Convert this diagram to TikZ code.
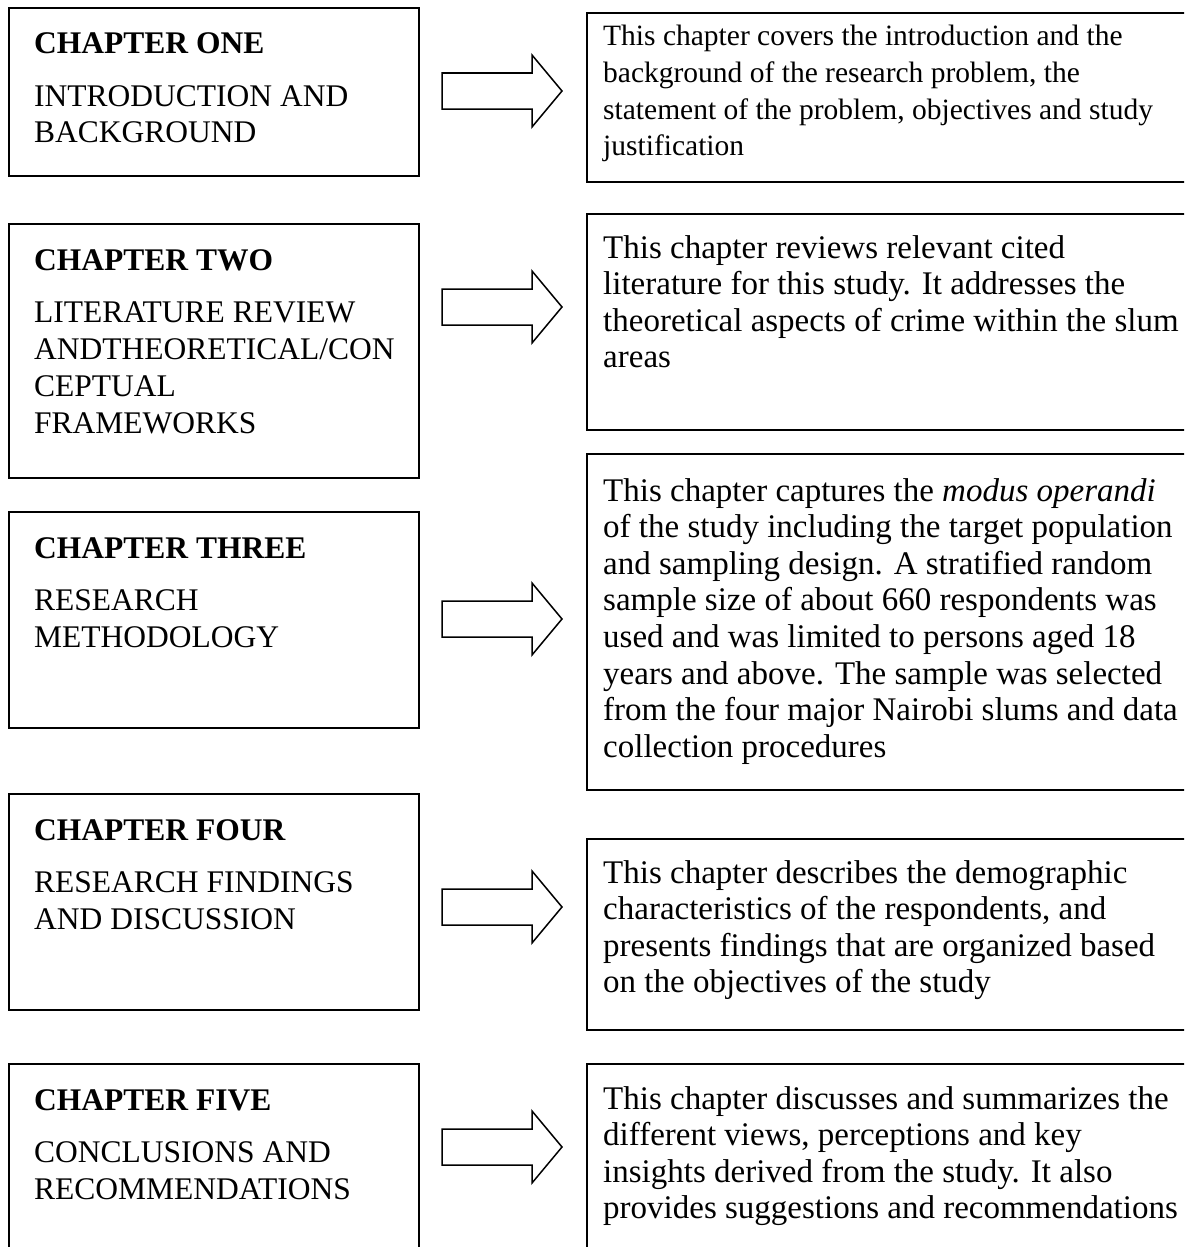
\documentclass[tikz,border=0pt]{standalone}
\usepackage{fontspec}
\setmainfont{Liberation Serif}
\newcommand\lines[1]{\begin{tabular}[t]{@{}l@{}}#1\end{tabular}}
\begin{document}
\begin{tikzpicture}[x=1pt,y=-1pt,
  box/.style={draw, line width=1.6pt, anchor=north west, inner sep=0pt, minimum width=#1},
  lbox/.style={box=410pt},
  rbox/.style={box=612pt},
  ltext/.style={anchor=base west, inner sep=0pt, font=\fontsize{31.5}{37}\selectfont},
  rtext/.style={anchor=base west, inner sep=0pt, font=\fontsize{33}{36.6}\selectfont},
  rtextsmall/.style={anchor=base west, inner sep=0pt, font=\fontsize{29.5}{36.6}\selectfont},
  blockarrow/.style={draw, line width=1.5pt, line join=miter}
]
\clip (0,0) rectangle (1184,1247);
\fill[white] (0,0) rectangle (1184,1247);

% left boxes
\node[lbox, minimum height=168pt] (L1) at (8,7) {};
\node[lbox, minimum height=254pt] (L2) at (8,223) {};
\node[lbox, minimum height=216pt] (L3) at (8,511) {};
\node[lbox, minimum height=216pt] (L4) at (8,793) {};
\node[lbox, minimum height=260pt] (L5) at (8,1063) {};

% right boxes
\node[rbox, minimum height=169pt] (R1) at (586,12) {};
\node[rbox, minimum height=216pt] (R2) at (586,213) {};
\node[rbox, minimum height=336pt] (R3) at (586,453) {};
\node[rbox, minimum height=191pt] (R4) at (586,838) {};
\node[rbox, minimum height=260pt] (R5) at (586,1063) {};

% left texts
\node[ltext] (T1) at (34,54) {\lines{\textbf{CHAPTER ONE}\\[15pt]INTRODUCTION AND\\BACKGROUND}};
\node[ltext] (T2) at (34,270) {\lines{\textbf{CHAPTER TWO}\\[15pt]LITERATURE REVIEW\\ANDTHEORETICAL/CON\\CEPTUAL\\FRAMEWORKS}};
\node[ltext] (T3) at (34,558) {\lines{\textbf{CHAPTER THREE}\\[15pt]RESEARCH\\METHODOLOGY}};
\node[ltext] (T4) at (34,840) {\lines{\textbf{CHAPTER FOUR}\\[15pt]RESEARCH FINDINGS\\AND DISCUSSION}};
\node[ltext] (T5) at (34,1110) {\lines{\textbf{CHAPTER FIVE}\\[15pt]CONCLUSIONS AND\\RECOMMENDATIONS}};

% right texts
\node[rtextsmall] (D1) at (603,46) {\lines{This chapter covers the introduction and the\\background of the research problem, the\\statement of the problem, objectives and study\\justification}};
\node[rtext] (D2) at (603,258) {\lines{This chapter reviews relevant cited\\literature for this study. It addresses the\\theoretical aspects of crime within the slum\\areas}};
\node[rtext] (D3) at (603,501) {\lines{This chapter captures the \textit{modus operandi}\\of the study including the target population\\and sampling design. A stratified random\\sample size of about 660 respondents was\\used and was limited to persons aged 18\\years and above. The sample was selected\\from the four major Nairobi slums and data\\collection procedures}};
\node[rtext] (D4) at (603,883) {\lines{This chapter describes the demographic\\characteristics of the respondents, and\\presents findings that are organized based\\on the objectives of the study}};
\node[rtext] (D5) at (603,1109) {\lines{This chapter discusses and summarizes the\\different views, perceptions and key\\insights derived from the study. It also\\provides suggestions and recommendations}};

% block arrows
\coordinate (A1) at (442,91);
\coordinate (A2) at (442,307);
\coordinate (A3) at (442,619);
\coordinate (A4) at (442,907);
\coordinate (A5) at (442,1147);
\foreach \a in {A1,A2,A3,A4,A5}{
  \draw[blockarrow] (\a) ++(0,-18) -- ++(90,0) -- ++(0,-18) -- ++(30,36) -- ++(-30,36) -- ++(0,-18) -- ++(-90,0) -- cycle;
}
\end{tikzpicture}
\end{document}
